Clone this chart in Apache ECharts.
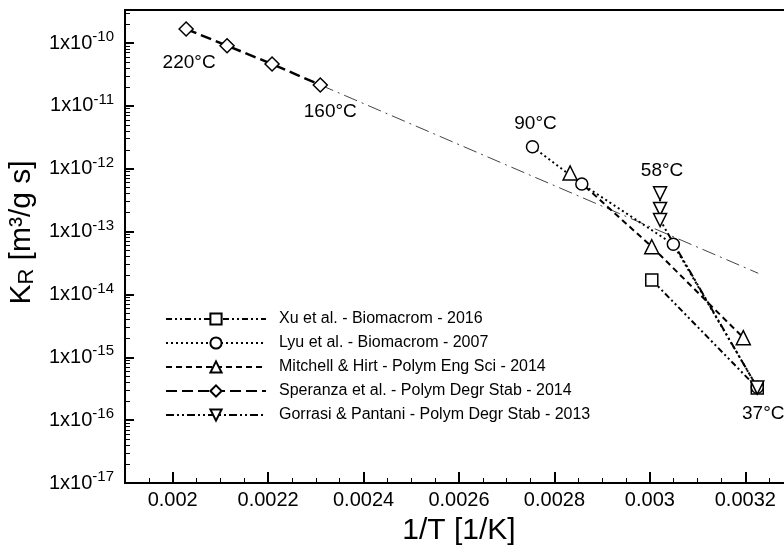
<!DOCTYPE html>
<html>
<head>
<meta charset="utf-8">
<script src="https://cdn.jsdelivr.net/npm/echarts@6/dist/echarts.min.js"></script>
<style>
  html, body { margin: 0; padding: 0; background: #fff; }
  #chart { width: 784px; height: 552px; }
</style>
</head>
<body>
<div id="chart"></div>
<script>
// x = 1/T [1/K], y = K_R [m3/g s]
const xuX = [0.003004, 0.0032251];
const xuY = [1.70e-14, 3.25e-16];

const lyuX = [0.002754, 0.0028574, 0.0030492, 0.0032251];
const lyuY = [2.24e-12, 5.71e-13, 6.28e-14, 3.33e-16];

const mitchellX = [0.0028329, 0.003004, 0.0031958];
const mitchellY = [8.55e-13, 5.74e-14, 2.05e-15];

const speranzaX = [0.0020281, 0.0021139, 0.0022082, 0.0023093];
const speranzaY = [1.67e-10, 9.06e-11, 4.63e-11, 2.15e-11];

const gorrasiX = [0.0030214, 0.0030214, 0.0030214, 0.0032251];
const gorrasiY = [4.06e-13, 2.29e-13, 1.53e-13, 3.30e-16];

// extrapolated Arrhenius line from the 160°C point
const fitX = [0.0023093, 0.0032272];
const fitY = [2.15e-11, 2.17e-14];

const seriesNames = [
  'Xu et al. - Biomacrom - 2016',
  'Lyu et al. - Biomacrom - 2007',
  'Mitchell & Hirt - Polym Eng Sci - 2014',
  'Speranza et al. - Polym Degr Stab - 2014',
  'Gorrasi & Pantani - Polym Degr Stab - 2013'
];
const tempLabels = ['220°C', '160°C', '90°C', '58°C', '37°C'];

const xTicks = [0.002, 0.0022, 0.0024, 0.0026, 0.0028, 0.003, 0.0032];
const xMin = 0.0019;
const xMax = 0.0033;
const xMinorStep = 0.00005;
const yDecades = [-17, -16, -15, -14, -13, -12, -11, -10];
const yMinorMult = [2, 3, 4, 5, 6, 7, 8, 9];
const yMin = -17;
const yMax = Math.log10(3.35e-10);

const FONT = '"Liberation Sans", Arial, Helvetica, sans-serif';

const xMinor = [];
for (let i = 0; xMin + i * xMinorStep <= xMax + 1e-9; i++) {
  xMinor.push(+(xMin + i * xMinorStep).toFixed(6));
}
const yMinor = [];
yDecades.forEach(d => {
  yMinorMult.forEach(m => {
    const v = d + Math.log10(m);
    if (v <= yMax) yMinor.push(v);
  });
});

function pts(xs, ys) {
  return xs.map((x, i) => [x, Math.log10(ys[i])]);
}

// attach a temperature note to one point
function tag(data, idx, text, offset) {
  data[idx] = {
    value: data[idx],
    label: {
      show: true,
      formatter: text,
      position: 'inside',
      offset: offset,
      fontSize: 19,
      fontFamily: FONT,
      color: '#000'
    }
  };
  return data;
}

const lyuData = pts(lyuX, lyuY);
tag(lyuData, 0, tempLabels[2], [3, -23]);
tag(lyuData, 3, tempLabels[4], [6, 26]);

const speranzaData = pts(speranzaX, speranzaY);
tag(speranzaData, 0, tempLabels[0], [3, 34]);
tag(speranzaData, 3, tempLabels[1], [10, 27]);

const gorrasiData = pts(gorrasiX, gorrasiY);
tag(gorrasiData, 0, tempLabels[3], [2, -23]);

const chart = echarts.init(document.getElementById('chart'));

const baseLine = { color: '#000' };
const symStyle = { color: '#fff', borderColor: '#000', borderWidth: 1.5 };

const option = {
  animation: false,
  backgroundColor: '#fff',
  color: ['#000'],
  grid: {
    left: 125,
    top: 10,
    right: -9,
    bottom: 69,
    show: true,
    borderColor: '#000',
    borderWidth: 2,
    outerBoundsMode: 'none'
  },
  legend: {
    orient: 'vertical',
    left: 165,
    top: 311,
    padding: 0,
    itemWidth: 100,
    itemHeight: 14,
    itemGap: 8,
    data: seriesNames,
    textStyle: {
      fontSize: 16,
      lineHeight: 16,
      fontFamily: FONT,
      color: '#000',
      padding: [0, 0, 0, 8]
    }
  },
  xAxis: [
    {
      type: 'value',
      min: xMin,
      max: xMax,
      position: 'bottom',
      axisLine: { onZero: false, lineStyle: { color: '#000', width: 2 } },
      axisTick: { inside: true, length: 11, customValues: xTicks, lineStyle: { color: '#000', width: 2 } },
      axisLabel: {
        customValues: xTicks,
        margin: 7,
        fontSize: 20,
        fontFamily: FONT,
        color: '#000',
        formatter: v => String(v)
      },
      splitLine: { show: false },
      name: '1/T [1/K]',
      nameLocation: 'middle',
      nameGap: 33,
      nameTextStyle: { fontSize: 30, fontFamily: FONT, color: '#000' }
    },
    {
      type: 'value',
      min: xMin,
      max: xMax,
      position: 'bottom',
      axisLine: { show: false, onZero: false },
      axisTick: { inside: true, length: 5, customValues: xMinor, lineStyle: { color: '#000', width: 1 } },
      axisLabel: { show: false },
      splitLine: { show: false }
    }
  ],
  yAxis: [
    {
      type: 'value',
      min: yMin,
      max: yMax,
      position: 'left',
      axisLine: { onZero: false, lineStyle: { color: '#000', width: 2 } },
      axisTick: { inside: true, length: 9, customValues: yDecades, lineStyle: { color: '#000', width: 2 } },
      axisLabel: {
        customValues: yDecades,
        margin: 11,
        formatter: v => '{b|1x10}{s|' + Math.round(v) + '}',
        rich: {
          b: { fontSize: 20, lineHeight: 27, fontFamily: FONT, color: '#000' },
          s: { fontSize: 15, lineHeight: 10, verticalAlign: 'top', fontFamily: FONT, color: '#000' }
        }
      },
      splitLine: { show: false },
      name: '{k|K}{r|R}{n| [m³/g s]}',
      nameLocation: 'middle',
      nameGap: 82,
      nameTextStyle: {
        padding: [0, 0, 0, 28],
        rich: {
          k: { fontSize: 30, lineHeight: 32, fontFamily: FONT, color: '#000' },
          r: { fontSize: 22, lineHeight: 22, verticalAlign: 'bottom', fontFamily: FONT, color: '#000' },
          n: { fontSize: 30, lineHeight: 32, fontFamily: FONT, color: '#000' }
        }
      }
    },
    {
      type: 'value',
      min: yMin,
      max: yMax,
      position: 'left',
      axisLine: { show: false, onZero: false },
      axisTick: { inside: true, length: 5, customValues: yMinor, lineStyle: { color: '#000', width: 1 } },
      axisLabel: { show: false },
      splitLine: { show: false }
    }
  ],
  series: [
    {
      name: 'fit',
      type: 'line',
      data: pts(fitX, fitY),
      showSymbol: false,
      symbol: 'none',
      lineStyle: { color: '#444', width: 1, type: [14, 5, 2, 5] },
      z: 1
    },
    {
      name: seriesNames[0],
      type: 'line',
      data: pts(xuX, xuY),
      symbol: 'rect',
      symbolSize: 12,
      itemStyle: symStyle,
      lineStyle: Object.assign({ width: 2, type: [6, 3, 2, 3, 2, 3] }, baseLine)
    },
    {
      name: seriesNames[1],
      type: 'line',
      data: lyuData,
      symbol: 'circle',
      symbolSize: 12,
      itemStyle: symStyle,
      lineStyle: Object.assign({ width: 2, type: [2, 3] }, baseLine)
    },
    {
      name: seriesNames[2],
      type: 'line',
      data: pts(mitchellX, mitchellY),
      symbol: 'triangle',
      symbolSize: 14,
      itemStyle: symStyle,
      lineStyle: Object.assign({ width: 2, type: [6, 4] }, baseLine)
    },
    {
      name: seriesNames[3],
      type: 'line',
      data: speranzaData,
      symbol: 'diamond',
      symbolSize: [14, 14],
      itemStyle: symStyle,
      lineStyle: Object.assign({ width: 2.5, type: [11, 5] }, baseLine)
    },
    {
      name: seriesNames[4],
      type: 'line',
      data: gorrasiData,
      symbol: 'triangle',
      symbolRotate: 180,
      symbolSize: 13,
      itemStyle: symStyle,
      lineStyle: Object.assign({ width: 2, type: [8, 3, 2, 3, 2, 3] }, baseLine)
    }
  ]
};

chart.setOption(option);
</script>
</body>
</html>
